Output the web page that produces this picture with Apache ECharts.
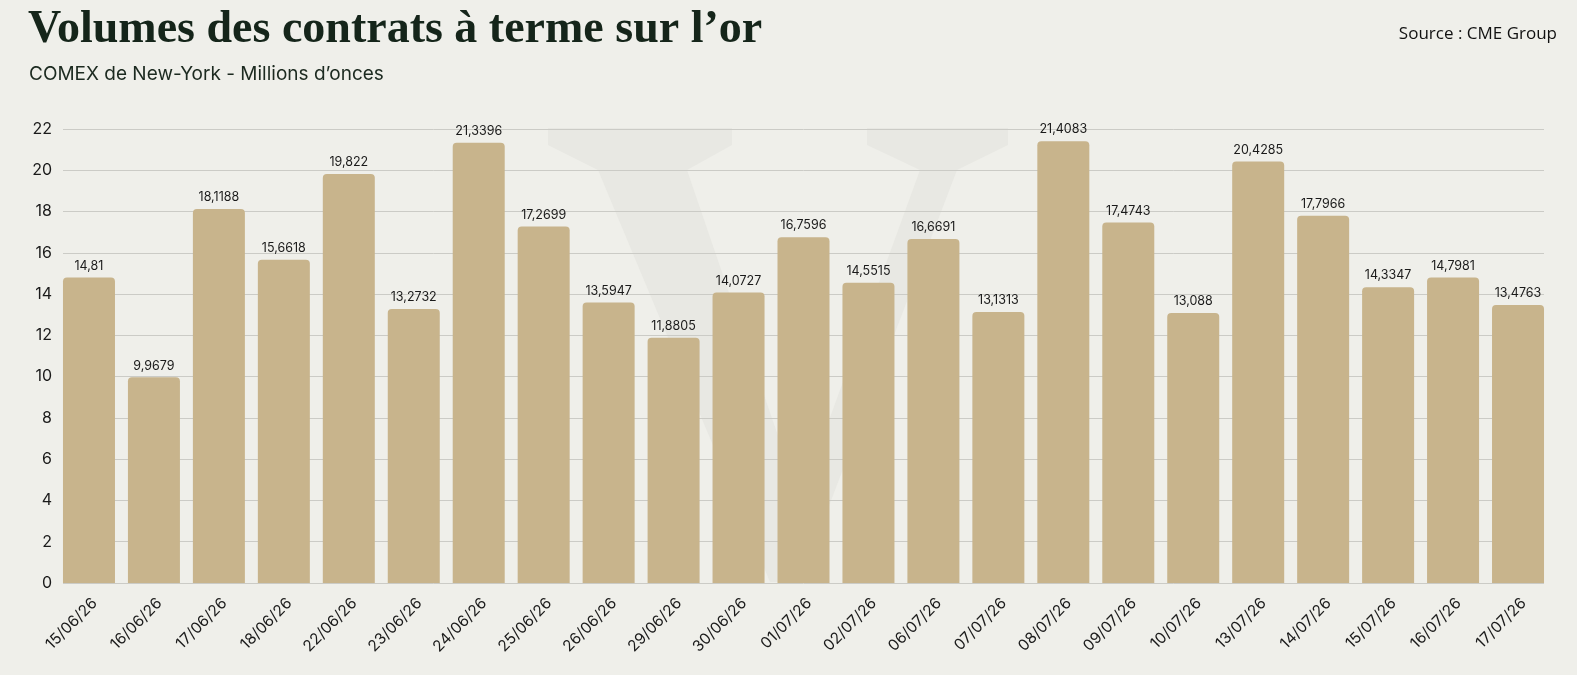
<!DOCTYPE html>
<html lang="fr">

<head>
    <meta charset="UTF-8">
    <title>Volumes des contrats à terme sur l'or</title>
    <script src="https://cdn.jsdelivr.net/npm/echarts@6.0.0/dist/echarts.min.js"></script>
    <style>
        html, body { margin: 0; padding: 0; background: #efefea; }
    </style>
</head>

<body>
    <div id="main" style="width: 1577px;height:675px;"></div>
    <script type="text/javascript">
        // séances (dates de cotation)
        const dates = ['15/06/26', '16/06/26', '17/06/26', '18/06/26', '22/06/26', '23/06/26', '24/06/26',
            '25/06/26', '26/06/26', '29/06/26', '30/06/26', '01/07/26', '02/07/26', '06/07/26', '07/07/26',
            '08/07/26', '09/07/26', '10/07/26', '13/07/26', '14/07/26', '15/07/26', '16/07/26', '17/07/26'];

        // volumes en millions d'onces
        const volumes = [14.81, 9.9679, 18.1188, 15.6618, 19.822, 13.2732, 21.3396,
            17.2699, 13.5947, 11.8805, 14.0727, 16.7596, 14.5515, 16.6691, 13.1313,
            21.4083, 17.4743, 13.088, 20.4285, 17.7966, 14.3347, 14.7981, 13.4763];

        const yTicks = [0, 2, 4, 6, 8, 10, 12, 14, 16, 18, 20, 22];

        const frNum = v => String(v).replace('.', ',');

        let myChart = echarts.init(document.getElementById('main'));

        // filigrane "V" très pâle derrière le graphique
        const wmColor = '#e8e8e3';
        const watermark = [
            { type: 'polygon', z: -10, silent: true, shape: { points: [[548, 128], [732, 128], [732, 145], [687, 170], [598, 170], [548, 145]] }, style: { fill: wmColor } },
            { type: 'polygon', z: -10, silent: true, shape: { points: [[867, 128], [1008, 128], [1008, 145], [957, 170], [920, 170], [867, 145]] }, style: { fill: wmColor } },
            { type: 'polygon', z: -10, silent: true, shape: { points: [[598, 170], [687, 170], [800, 500], [920, 170], [957, 170], [800, 582], [770, 582]] }, style: { fill: wmColor } }
        ];

        let options = {
            backgroundColor: '#efefea',
            animation: false,
            graphic: watermark,
            title: [
                {
                    text: 'Volumes des contrats à terme sur l’or',
                    left: 23, top: 2,
                    textStyle: { fontFamily: 'Liberation Serif', fontWeight: 'bold', fontSize: 46, color: '#15251a' }
                },
                {
                    text: 'COMEX de New-York - Millions d’onces',
                    left: 24, top: 60,
                    textStyle: { fontFamily: 'Inter', fontWeight: 'normal', fontSize: 19, color: '#1c2a20' }
                },
                {
                    text: 'Source : CME Group',
                    right: 15, top: 21,
                    textStyle: { fontFamily: 'Open Sans', fontWeight: 'normal', fontSize: 17, color: '#111' }
                }
            ],
            grid: [
                // grille des lignes horizontales
                { left: 63, right: 33, top: 129, bottom: 92 },
                // grille des barres (bandes élargies pour coller aux bords)
                { left: 56.5, right: 26.5, top: 129, bottom: 92 }
            ],
            xAxis: [
                { type: 'category', gridIndex: 0, data: dates, show: false },
                {
                    type: 'category', gridIndex: 1, data: dates,
                    axisLine: { show: false },
                    axisTick: { show: false },
                    axisLabel: {
                        rotate: 45, margin: 12, interval: 0, verticalAlign: 'top',
                        fontFamily: 'Inter', fontSize: 15.5, color: '#1a1a1a'
                    }
                }
            ],
            yAxis: [
                {
                    type: 'value', gridIndex: 0, min: 0, max: 22, interval: 2,
                    axisLine: { show: false },
                    axisTick: { show: false },
                    axisLabel: { margin: 11, fontFamily: 'Inter', fontSize: 16, color: '#1a1a1a' },
                    splitLine: { lineStyle: { color: '#cbcbc6', width: 1 } }
                },
                {
                    type: 'value', gridIndex: 1, min: 0, max: 22, interval: 2,
                    show: false, splitLine: { show: false }
                }
            ],
            series: [{
                name: 'Volumes',
                type: 'bar',
                xAxisIndex: 1,
                yAxisIndex: 1,
                data: volumes,
                barWidth: 52,
                itemStyle: { color: '#c8b48c', borderRadius: [4, 4, 0, 0] },
                label: {
                    show: true,
                    position: 'top',
                    distance: 5,
                    fontFamily: 'Inter',
                    fontSize: 12.5,
                    color: '#1a1a1a',
                    formatter: p => frNum(p.value)
                }
            }]
        };

        myChart.setOption(options);
    </script>
</body>

</html>
